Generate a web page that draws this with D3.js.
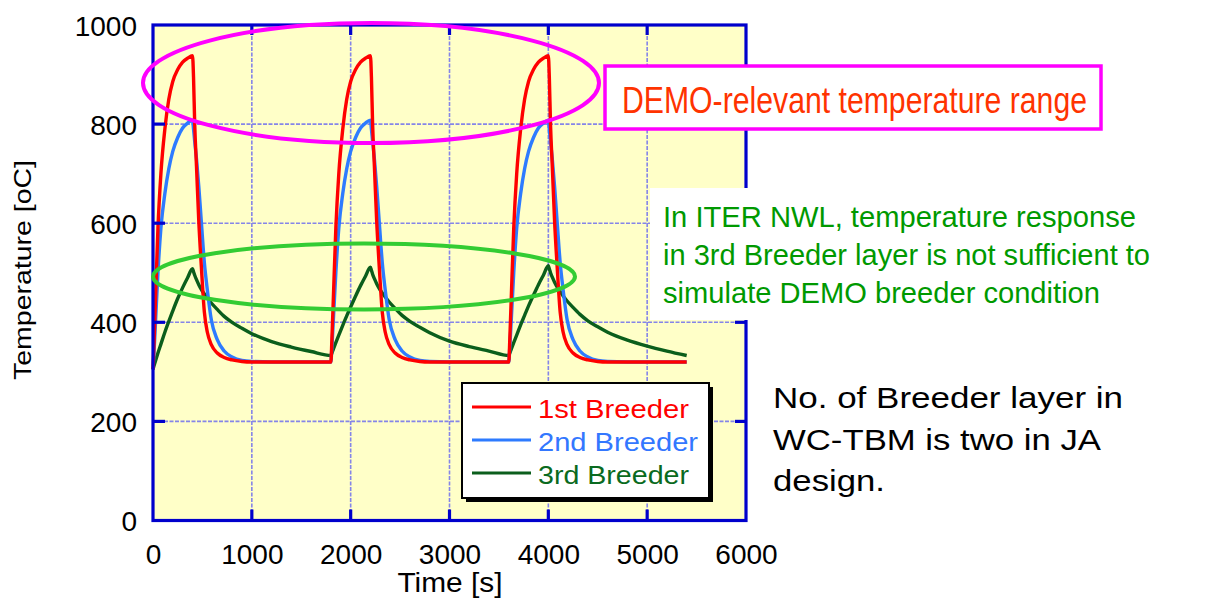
<!DOCTYPE html>
<html><head><meta charset="utf-8">
<script src="https://cdn.jsdelivr.net/npm/d3@7"></script>
<style>html,body{margin:0;padding:0;background:#fff;}svg{display:block;font-family:"Liberation Sans",Arial,sans-serif;}</style>
</head><body>
<svg id="c" width="1231" height="605"></svg>
<script>
// ---- data ----
const time = [0,10,25,50,80,120,160,200,250,300,350,400,410,422,440,463,490,520,550,590,650,720,800,900,1000,1200,1400,1600,
1800,1810,1825,1850,1880,1920,1960,2000,2050,2100,2150,2200,2210,2222,2240,2263,2290,2320,2350,2390,2450,2520,2600,2700,2800,3000,3200,3400,
3600,3610,3625,3650,3680,3720,3760,3800,3850,3900,3950,4000,4010,4022,4040,4063,4090,4120,4150,4190,4250,4320,4400,4500,4600,4800,5000,5200,5400];
const breeder1 = [305,355,445,590,700,790,850,886,910,925,933,938,895,800,715,605,510,420,380,355,338,329,324,321,320,320,320,320,
320,365,450,590,700,790,850,886,910,925,933,938,895,800,715,605,510,420,380,355,338,329,324,321,320,320,320,320,
320,365,450,590,700,790,850,886,910,925,933,938,895,800,715,605,510,420,380,355,338,329,324,321,320,320,320,320,320];
const breeder2 = [305,338,398,500,590,660,710,745,773,792,802,808,790,765,730,675,600,520,465,405,365,342,330,323,321,320,320,320,
320,350,405,500,590,660,710,745,773,792,802,808,790,765,730,675,600,520,465,405,365,342,330,323,321,320,320,320,
320,350,405,500,590,660,710,745,773,792,802,808,790,765,730,675,600,520,465,405,365,342,330,323,321,320,320,320,320];
const breeder3 = [305,312,322,338,356,380,402,423,448,470,490,508,502,495,486,476,466,457,449,439,426,412,400,388,377,361,350,341,
333,338,346,359,374,394,413,431,453,474,493,511,505,497,488,478,468,459,451,441,428,414,402,390,379,362,351,342,
333,338,346,359,374,395,414,433,455,476,495,514,508,500,491,481,471,462,453,443,430,416,403,391,380,364,352,342,333];
const seriesNames = ["1st Breeder","2nd Breeder","3rd Breeder"];
const xTicks = [0,1000,2000,3000,4000,5000,6000];
const yTicks = [0,200,400,600,800,1000];

const svg = d3.select("#c");
const font = '"Liberation Sans",Arial,sans-serif';
const x = d3.scaleLinear().domain([0,6000]).range([153,746]);
const y = d3.scaleLinear().domain([0,1000]).range([520.5,25]);
const L=153,R=746,T=25,B=520.5;

// background
svg.append("rect").attr("x",L).attr("y",T).attr("width",R-L).attr("height",B-T).attr("fill","#FFFFC8");
// grid
const grid = svg.append("g").attr("stroke","#7070EE").attr("stroke-width",1.6).attr("stroke-dasharray","4,1.5").attr("opacity",0.85);
xTicks.slice(1,-1).forEach(v=>grid.append("line").attr("x1",x(v)).attr("x2",x(v)).attr("y1",T).attr("y2",B));
yTicks.slice(1,-1).forEach(v=>grid.append("line").attr("y1",y(v)).attr("y2",y(v)).attr("x1",L).attr("x2",R));

// curves
const cols = ["#FF0000","#2D7BFF","#0B5E1C"];
const data = [breeder1,breeder2,breeder3];
const line = d3.line().x(d=>x(d[0])).y(d=>y(d[1])).curve(d3.curveMonotoneX);
[2,1,0].forEach(i=>{
  svg.append("path").datum(time.map((t,j)=>[t,data[i][j]])).attr("d",line)
    .attr("fill","none").attr("stroke",cols[i]).attr("stroke-width",3.4).attr("stroke-linejoin","round");
});

// frame + ticks (inward, all four sides)
const fr = svg.append("g").attr("stroke","#0000CC").attr("stroke-width",3.2);
fr.append("rect").attr("x",L).attr("y",T).attr("width",R-L).attr("height",B-T).attr("fill","none");
xTicks.slice(1,-1).forEach(v=>{
  fr.append("line").attr("x1",x(v)).attr("x2",x(v)).attr("y1",B).attr("y2",B-11);
  fr.append("line").attr("x1",x(v)).attr("x2",x(v)).attr("y1",T).attr("y2",T+10);
});
yTicks.slice(1,-1).forEach(v=>{
  fr.append("line").attr("x1",L).attr("x2",L+12).attr("y1",y(v)).attr("y2",y(v));
  fr.append("line").attr("x1",R).attr("x2",R-11).attr("y1",y(v)).attr("y2",y(v));
});

// axis labels
const ya = d3.axisLeft(y).tickValues(yTicks).tickFormat(d3.format("d")).tickSize(0).tickPadding(0);
const gy = svg.append("g").attr("transform","translate(137,0)").call(ya);
gy.select(".domain").remove();
gy.selectAll("text").attr("font-size",28).attr("font-family",font).attr("fill","#000").attr("dy","0.37em").attr("x",0);
const xa = d3.axisBottom(x).tickValues(xTicks).tickFormat(d3.format("d")).tickSize(0).tickPadding(0);
const gx = svg.append("g").call(xa);
gx.select(".domain").remove();
gx.selectAll("text").attr("font-size",28).attr("font-family",font).attr("fill","#000").attr("y",564).attr("dy",0);

svg.append("text").attr("x",450).attr("y",592).attr("text-anchor","middle").attr("font-size",27)
  .attr("textLength",105).attr("lengthAdjust","spacingAndGlyphs").text("Time [s]");
svg.append("text").attr("transform","translate(31,270) rotate(-90)").attr("text-anchor","middle").attr("font-size",24)
  .attr("textLength",220).attr("lengthAdjust","spacingAndGlyphs").text("Temperature [oC]");

// ellipses
svg.append("ellipse").attr("cx",371).attr("cy",83).attr("rx",228).attr("ry",60)
  .attr("fill","none").attr("stroke","#FF00FF").attr("stroke-width",4);
svg.append("ellipse").attr("cx",364).attr("cy",276.5).attr("rx",211).attr("ry",33)
  .attr("fill","none").attr("stroke","#33CC33").attr("stroke-width",4);

// legend
const lg = svg.append("g");
lg.append("rect").attr("x",466).attr("y",387).attr("width",247).attr("height",115).attr("fill","#000");
lg.append("rect").attr("x",462).attr("y",383).attr("width",247).attr("height",115).attr("fill","#fff").attr("stroke","#000").attr("stroke-width",2);
const lgTextCols = ["#FF0000","#3377FF","#0A6A20"];
const lgW = [151,160,151];
seriesNames.forEach((n,i)=>{
  const yy = 407 + i*33;
  lg.append("line").attr("x1",472).attr("x2",531).attr("y1",yy).attr("y2",yy).attr("stroke",cols[i]).attr("stroke-width",3);
  lg.append("text").attr("x",538).attr("y",yy+11).attr("font-size",25).attr("fill",lgTextCols[i])
    .attr("textLength",lgW[i]).attr("lengthAdjust","spacingAndGlyphs").text(n);
});

// DEMO box
svg.append("rect").attr("x",605).attr("y",66).attr("width",496).attr("height",63).attr("fill","#fff")
  .attr("stroke","#FF00FF").attr("stroke-width",3.5);
svg.append("text").attr("x",622).attr("y",113).attr("font-size",36).attr("fill","#FF3300")
  .attr("textLength",465).attr("lengthAdjust","spacingAndGlyphs").text("DEMO-relevant temperature range");

// green note
svg.append("rect").attr("x",650).attr("y",188).attr("width",581).attr("height",132).attr("fill","#fff");
const gl = [["In ITER NWL, temperature response",473,227],["in 3rd Breeder layer is not sufficient to",487,265],["simulate DEMO breeder condition",437,303]];
gl.forEach(d=>svg.append("text").attr("x",663).attr("y",d[2]).attr("font-size",30).attr("fill","#009900")
  .attr("textLength",d[1]).attr("lengthAdjust","spacingAndGlyphs").text(d[0]));

// black note
const bl = [["No. of Breeder layer in",350,408],["WC-TBM is two in JA",328,450],["design.",112,491]];
bl.forEach(d=>svg.append("text").attr("x",773).attr("y",d[2]).attr("font-size",30).attr("fill","#000")
  .attr("textLength",d[1]).attr("lengthAdjust","spacingAndGlyphs").text(d[0]));
</script>
</body></html>
